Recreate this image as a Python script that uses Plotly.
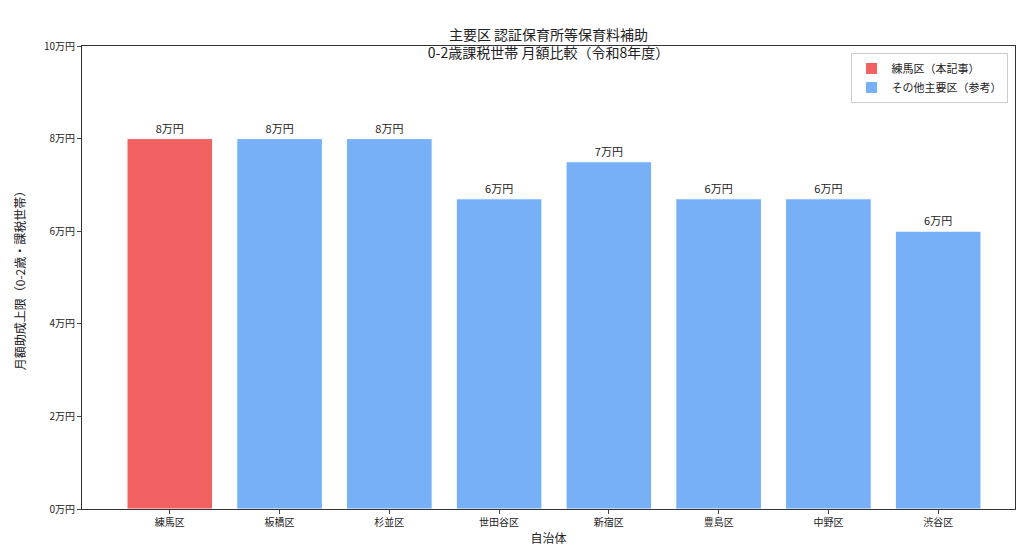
import plotly.graph_objects as go

wards = ["練馬区", "板橋区", "杉並区", "世田谷区", "新宿区", "豊島区", "中野区", "渋谷区"]
values = [80000, 80000, 80000, 67000, 75000, 67000, 67000, 60000]
highlight = ["練馬区"]
tick_vals = [0, 20000, 40000, 60000, 80000, 100000]
tick_text = ["0万円", "2万円", "4万円", "6万円", "8万円", "10万円"]
labels = [f"{v // 10000}万円" for v in values]

RED = "rgba(240,80,80,0.9)"
BLUE = "rgba(100,165,245,0.88)"
font = "Noto Sans CJK JP"

fig = go.Figure()
for name, color, test in [("練馬区（本記事）", RED, True), ("その他主要区（参考）", BLUE, False)]:
    xs = [wards.index(w) for w in wards if (w in highlight) == test]
    ys = [v for w, v in zip(wards, values) if (w in highlight) == test]
    ts = [t for w, t in zip(wards, labels) if (w in highlight) == test]
    fig.add_trace(go.Bar(x=xs, y=ys, name=name, width=0.78,
                         marker=dict(color=color, line=dict(color="white", width=1)),
                         text=ts, textposition="outside", textfont=dict(size=11, color="#222"), cliponaxis=False))

fig.update_layout(
    width=1024, height=554, plot_bgcolor="white", paper_bgcolor="white",
    font=dict(family=font, size=11, color="#222"),
    margin=dict(l=72, r=17, t=38, b=53),
    title=dict(text="主要区 認証保育所等保育料補助<br>0-2歳課税世帯 月額比較（令和8年度）", x=0.5, xanchor="center",
               xref="paper", yref="paper", y=1, yanchor="bottom", pad=dict(b=6), font=dict(size=14)),
    xaxis=dict(tickvals=list(range(len(wards))), ticktext=wards, range=[-0.8, 7.7],
               title=dict(text="自治体", font=dict(size=12), standoff=6),
               showline=True, linecolor="#333", mirror=True, ticks="outside", ticklen=4, tickfont=dict(size=10),
               showgrid=False, zeroline=False),
    yaxis=dict(range=[0, 100000], tickvals=tick_vals, ticktext=tick_text, title=dict(text="月額助成上限（0-2歳・課税世帯）", font=dict(size=12)),
               showline=True, linecolor="#333", mirror=True, ticks="outside", ticklen=4, showgrid=False, zeroline=False,
               tickfont=dict(size=10)),
    legend=dict(x=0.992, y=0.985, xanchor="right", yanchor="top", bordercolor="#ccc", borderwidth=1,
                font=dict(size=11), bgcolor="white"),
)
fig.write_html("out.html")
